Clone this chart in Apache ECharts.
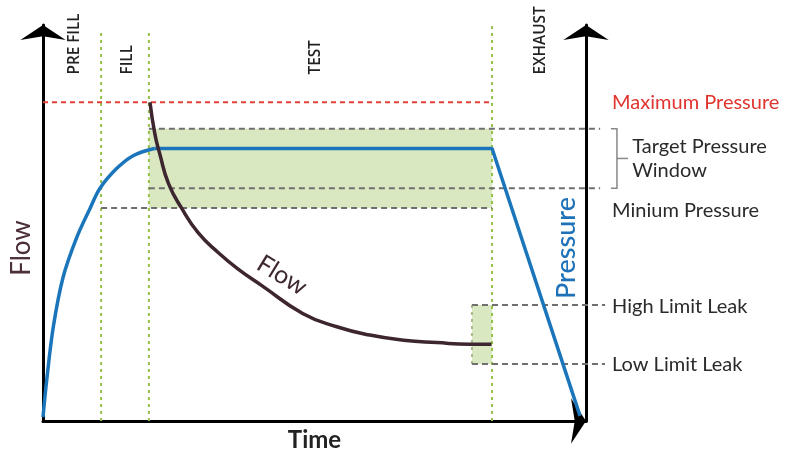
<!DOCTYPE html>
<html><head><meta charset="utf-8">
<script src="https://cdn.jsdelivr.net/npm/echarts@6/dist/echarts.min.js"></script>
<style>html,body{margin:0;padding:0;background:#fff}#c{width:789px;height:457px}</style>
</head><body><div id="c"></div>
<script>
// ---- data (x: time 0..100, y: level 0..100) ----
const phaseNames = ['PRE FILL', 'FILL', 'TEST', 'EXHAUST'];
const phaseLabelX = [5.8, 15.5, 50.1, 91.5];
const phaseLabelBase = 87.5;
const phaseBounds = [10.7, 19.5, 82.7];
const phaseTops = [98.8, 98.8, 100.5];

const maxPressure = 80.5;
const targetHigh = 73.8;
const targetLow = 58.8;
const minPressure = 53.8;
const leakHigh = 29.3;
const leakLow = 14.4;
const leakStart = 79.0;

const pressureRise = [[0, 1], [0.7, 10.5], [1.9, 23.8], [3.7, 36.3], [6.2, 46.3], [8.7, 53.8], [10.5, 58.8], [13.6, 63.8], [16.6, 67.0], [20.5, 68.8]];
const pressureHoldExhaust = [[20.5, 68.8], [82.7, 68.8], [98.9, 1.3]];
const flowDecay = [[19.7, 80.5], [20.6, 72.5], [21.5, 67.5], [23.1, 60.0], [25.5, 53.8], [28.6, 47.5], [32.3, 42.5], [36.0, 38.3], [40.3, 34.2], [47.9, 27.1], [54.1, 23.8], [60.2, 21.7], [66.4, 20.4], [72.5, 19.8], [78.6, 19.4], [82.6, 19.4]];

const levelLabels = ['Maximum Pressure', 'Target Pressure\nWindow', 'Minium Pressure', 'High Limit Leak', 'Low Limit Leak'];
const levelLabelX = [104.8, 108.5, 104.8, 104.8, 104.8];
const levelLabelY = [80.5, 66.3, 53.2, 28.8, 14.3];
const curveLabel = 'Flow';
const curveLabelPos = [44.0, 36.8];

// ---- derived segment tables ----
const greenAreas = [[19.5, targetHigh, 82.7, minPressure], [leakStart, leakHigh, 82.7, leakLow]];
const phaseLines = phaseBounds.map((x, i) => [x, 0, x, phaseTops[i]]);
const leakBorder = [[leakStart, leakHigh, leakStart, leakLow]];
const redLines = [[0, maxPressure, 82.7, maxPressure]];
const grayLines = [
  [19.5, targetHigh, 102.6, targetHigh],
  [19.5, targetLow, 102.6, targetLow],
  [10.7, minPressure, 82.7, minPressure],
  [leakStart, leakHigh, 103.5, leakHigh],
  [leakStart, leakLow, 103.5, leakLow]
];

const FONT = 'Lato, "Open Sans", sans-serif';

function segSeries(name, segs, style, z) {
  return {
    type: 'custom', name, silent: true, clip: false, z,
    data: segs,
    encode: { x: [0, 2], y: [1, 3] },
    renderItem: (params, api) => {
      const p1 = api.coord([api.value(0), api.value(1)]);
      const p2 = api.coord([api.value(2), api.value(3)]);
      return { type: 'line', shape: { x1: p1[0], y1: p1[1], x2: p2[0], y2: p2[1] }, style: Object.assign({ fill: null }, style) };
    }
  };
}

const chart = echarts.init(document.getElementById('c'));
const axisLineStyle = { color: '#000', width: 3 };
const arrowAxis = { show: true, onZero: false, lineStyle: axisLineStyle, symbol: ['none', 'arrow'], symbolSize: [34, 15] };
chart.setOption({
  animation: false,
  backgroundColor: '#fff',
  grid: { left: 43, right: 203, top: 25, bottom: 32 },
  xAxis: {
    type: 'value', min: 0, max: 100,
    axisLine: arrowAxis,
    axisTick: { show: false }, axisLabel: { show: false }, splitLine: { show: false },
    name: 'Time', nameLocation: 'middle', nameGap: 7,
    nameTextStyle: { fontFamily: FONT, fontSize: 24, fontWeight: 'bold', color: '#222', verticalAlign: 'top' }
  },
  yAxis: [
    { type: 'value', min: 0, max: 100, position: 'left', axisLine: arrowAxis,
      axisTick: { show: false }, axisLabel: { show: false }, splitLine: { show: false } },
    { type: 'value', min: 0, max: 100, position: 'right', axisLine: arrowAxis,
      axisTick: { show: false }, axisLabel: { show: false }, splitLine: { show: false } }
  ],
  graphic: [
    { type: 'text', x: 22, y: 248, rotation: Math.PI / 2, style: { text: 'Flow', fill: '#4d2f37', fontFamily: FONT, fontSize: 26, align: 'center', verticalAlign: 'middle' } },
    { type: 'text', x: 566, y: 248, rotation: Math.PI / 2, style: { text: 'Pressure', fill: '#1f72b8', fontFamily: FONT, fontSize: 27, fontWeight: 500, align: 'center', verticalAlign: 'middle' } }
  ],
  series: [
    {
      type: 'custom', name: 'windows', silent: true, clip: false, z: 1,
      data: greenAreas, encode: { x: [0, 2], y: [1, 3] },
      renderItem: (params, api) => {
        const p1 = api.coord([api.value(0), api.value(1)]);
        const p2 = api.coord([api.value(2), api.value(3)]);
        return { type: 'rect', shape: { x: p1[0], y: p1[1], width: p2[0] - p1[0], height: p2[1] - p1[1] }, style: { fill: '#d9e8c0' } };
      }
    },
    segSeries('phases', phaseLines, { stroke: '#94c04a', lineWidth: 2, lineDash: [3, 4] }, 2),
    segSeries('leakBorder', leakBorder, { stroke: '#a9b98a', lineWidth: 2, lineDash: [3, 4] }, 2),
    segSeries('maxLine', redLines, { stroke: '#e3403a', lineWidth: 2, lineDash: [5, 4] }, 3),
    segSeries('levels', grayLines, { stroke: '#6f6f6f', lineWidth: 2, lineDash: [6, 4] }, 3),
    {
      type: 'custom', name: 'bracket', silent: true, clip: false, z: 3,
      data: [[105.7, targetHigh, targetLow]],
      renderItem: (params, api) => {
        const t = api.coord([api.value(0), api.value(1)]);
        const b = api.coord([api.value(0), api.value(2)]);
        const m = (t[1] + b[1]) / 2;
        return { type: 'group', children: [
          { type: 'polyline', shape: { points: [[t[0] - 6, t[1]], [t[0], t[1]], [b[0], b[1]], [b[0] - 6, b[1]]] }, style: { stroke: '#888', lineWidth: 1.5, fill: null } },
          { type: 'line', shape: { x1: t[0], y1: m, x2: t[0] + 11, y2: m }, style: { stroke: '#888', lineWidth: 1.5 } }
        ] };
      }
    },
    { type: 'line', name: 'Pressure rise', data: pressureRise, smooth: 0.35, showSymbol: false, z: 5,
      lineStyle: { color: '#1b75bb', width: 3.5 } },
    { type: 'line', name: 'Pressure hold', data: pressureHoldExhaust, showSymbol: false, z: 5,
      lineStyle: { color: '#1b75bb', width: 3.5 } },
    { type: 'line', name: 'Flow', data: flowDecay, smooth: 0.5, showSymbol: false, z: 6,
      lineStyle: { color: '#3d2630', width: 3.5 } },
    {
      type: 'custom', name: 'phaseLabels', silent: true, clip: false, z: 7,
      data: phaseLabelX.map(x => [x, phaseLabelBase]),
      renderItem: (params, api) => {
        const p = api.coord([api.value(0), api.value(1)]);
        return { type: 'text', x: p[0], y: p[1], rotation: Math.PI / 2, scaleX: 0.9,
          style: { text: phaseNames[params.dataIndex], fill: '#222', fontFamily: '"Open Sans", sans-serif', fontSize: 17, fontWeight: 600, align: 'left', verticalAlign: 'middle' } };
      }
    },
    {
      type: 'custom', name: 'levelLabels', silent: true, clip: false, z: 7,
      data: levelLabelX.map((x, i) => [x, levelLabelY[i]]),
      renderItem: (params, api) => {
        const p = api.coord([api.value(0), api.value(1)]);
        const i = params.dataIndex;
        return { type: 'text', x: p[0], y: p[1],
          style: { text: levelLabels[i], fill: i === 0 ? '#e0342f' : '#2a2a2a', fontFamily: FONT, fontSize: 20, lineHeight: 24, align: 'left', verticalAlign: 'middle' } };
      }
    },
    {
      type: 'custom', name: 'curveLabel', silent: true, clip: false, z: 7,
      data: [curveLabelPos],
      renderItem: (params, api) => {
        const p = api.coord([api.value(0), api.value(1)]);
        return { type: 'text', x: p[0], y: p[1], rotation: -0.55,
          style: { text: curveLabel, fill: '#3f2a30', fontFamily: FONT, fontSize: 25, align: 'center', verticalAlign: 'middle' } };
      }
    }
  ]
});
</script></body></html>
